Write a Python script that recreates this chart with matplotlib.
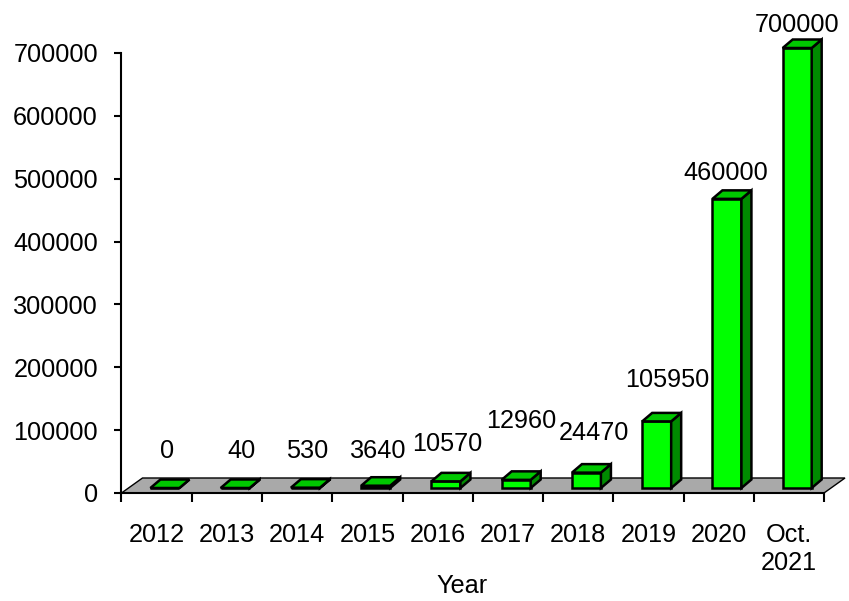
import matplotlib
matplotlib.use('Agg')
import matplotlib.pyplot as plt
from matplotlib.patches import Polygon
import numpy as np

# ---- data ----
categories = ['2012', '2013', '2014', '2015', '2016', '2017', '2018', '2019', '2020', 'Oct.\n2021']
values = [0, 40, 530, 3640, 10570, 12960, 24470, 105950, 460000, 700000]
y_ticks = [0, 100000, 200000, 300000, 400000, 500000, 600000, 700000]
x_label = 'Year'

# ---- layout / style (pixels) ----
label_offsets = [(-2.4, 25.7), (1.1, 25.7), (-2.8, 25.4), (-2.0, 23.5), (-3.2, 26.1),
                 (-0.4, 47.9), (2.4, 28.4), (5.7, 30.5), (-6.2, 14.6), (-5.5, 12.0)]
FRONT = '#00ff00'
TOP = '#00c800'
SIDE = '#008a00'
FLOOR = '#a9a9a9'
FS = 18.2

plt.rcParams['font.family'] = ['Liberation Sans', 'DejaVu Sans']

W_PX, H_PX = 849, 601
fig = plt.figure(figsize=(W_PX / 100, H_PX / 100), dpi=100)
ax_l, ax_r, ax_b, ax_t = 121.5, 824.0, 493.0, 53.0
ax = fig.add_axes([ax_l / W_PX, 1 - ax_b / H_PX, (ax_r - ax_l) / W_PX, (ax_b - ax_t) / H_PX])
n = len(categories)
ax.set_xlim(0, n)
ax.set_ylim(0, y_ticks[-1])

px_x = (ax_r - ax_l) / n
px_y = (ax_b - ax_t) / y_ticks[-1]
def ux(p):
    return p / px_x
def uy(p):
    return p / px_y

# floor
fdx, fdy = ux(21), uy(15)
floor = Polygon([(0, 0), (n, 0), (n + fdx, fdy), (fdx, fdy)], closed=True,
                facecolor=FLOOR, edgecolor='black', lw=1.0, clip_on=False, zorder=1)
ax.add_patch(floor)

# bars
shift = ux(8.3)
half_w = ux(14.5)
base = uy(5)
ddx, ddy = ux(10), uy(8.5)
lw = 1.8
for i, v in enumerate(values):
    c = i + 0.5 + shift
    xl, xr = c - half_w, c + half_w
    top = base + v
    front = Polygon([(xl, base), (xr, base), (xr, top), (xl, top)], closed=True,
                    facecolor=FRONT, edgecolor='black', lw=lw, clip_on=False, zorder=3,
                    joinstyle='miter')
    side = Polygon([(xr, base), (xr + ddx, base + ddy), (xr + ddx, top + ddy), (xr, top)],
                   closed=True, facecolor=SIDE, edgecolor='black', lw=lw, clip_on=False,
                   zorder=3, joinstyle='miter')
    topf = Polygon([(xl, top), (xr, top), (xr + ddx, top + ddy), (xl + ddx, top + ddy)],
                   closed=True, facecolor=TOP, edgecolor='black', lw=lw, clip_on=False,
                   zorder=3, joinstyle='miter')
    for p in (front, side, topf):
        ax.add_patch(p)
    ox, oy = label_offsets[i]
    ax.annotate(str(v), xy=(c + ddx / 2, top + ddy / 2), xytext=(ox, oy),
                textcoords='offset pixels', ha='center', va='baseline',
                fontsize=FS, color='black', annotation_clip=False, zorder=5)

# axes styling
for s in ('top', 'right'):
    ax.spines[s].set_visible(False)
for s in ('left', 'bottom'):
    ax.spines[s].set_linewidth(1.5)
    ax.spines[s].set_zorder(4)
ax.set_yticks(y_ticks)
ax.set_yticklabels([str(t) for t in y_ticks], fontsize=FS)
ax.tick_params(axis='y', length=5, width=1.5, pad=12)

ax.set_xticks(np.arange(n + 1))
ax.set_xticklabels([])
ax.set_xticks(np.arange(n) + 0.5, minor=True)
ax.set_xticklabels(categories, minor=True, fontsize=FS, linespacing=1.22)
ax.tick_params(axis='x', which='major', length=6.5, width=1.5, direction='out')
ax.tick_params(axis='x', which='minor', length=0, pad=21.5)

ax.set_xlabel(x_label, fontsize=FS)
ax.xaxis.set_label_coords((462 - ax_l) / (ax_r - ax_l), (ax_b - 593) / (ax_b - ax_t))
ax.xaxis.label.set_verticalalignment('baseline')

fig.savefig('out.png', dpi=100)
